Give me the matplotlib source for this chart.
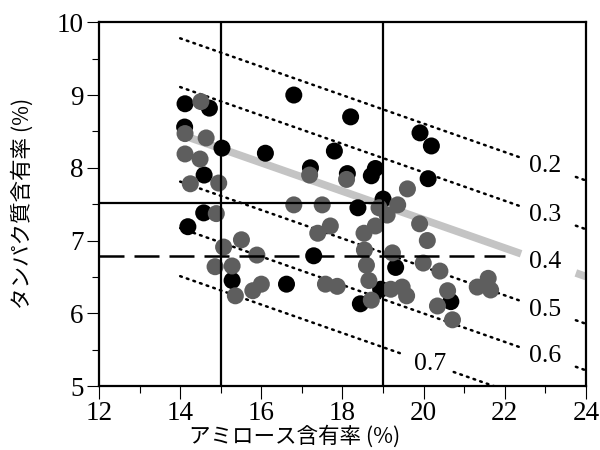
import matplotlib
matplotlib.use("Agg")
import matplotlib.pyplot as plt
import numpy as np

# ---- data ----
black_x = [14.12, 14.72, 14.11, 15.03, 16.10, 14.59, 14.58, 14.19, 15.28, 16.62,
           16.80, 18.20, 17.80, 17.21, 18.12, 18.81, 18.71, 18.38, 19.00, 17.29,
           19.31, 18.94, 18.44, 19.91, 20.19, 20.11, 20.67]
black_y = [8.88, 8.82, 8.56, 8.27, 8.20, 7.90, 7.38, 7.19, 6.45, 6.40,
           9.00, 8.70, 8.23, 8.00, 7.92, 7.99, 7.89, 7.45, 7.57, 6.79,
           6.63, 6.33, 6.13, 8.48, 8.30, 7.85, 6.16]

gray_x = [14.51, 14.12, 14.64, 14.12, 14.49, 14.25, 14.95, 14.89, 15.07, 15.51,
          15.89, 14.86, 15.28, 15.36, 16.00, 15.79, 17.19, 18.10, 16.80, 17.50,
          18.90, 19.10, 19.36, 17.70, 17.39, 18.81, 18.53, 18.54, 18.59, 19.23,
          17.58, 17.87, 18.65, 18.71, 19.19, 19.47, 19.58, 19.60, 19.90, 20.09,
          19.99, 20.40, 20.59, 20.34, 20.71, 21.32, 21.59, 21.65]
gray_y = [8.91, 8.47, 8.41, 8.19, 8.12, 7.78, 7.79, 7.37, 6.91, 7.01,
          6.80, 6.64, 6.65, 6.24, 6.40, 6.31, 7.90, 7.84, 7.49, 7.49,
          7.45, 7.35, 7.49, 7.20, 7.10, 7.20, 7.10, 6.87, 6.66, 6.83,
          6.40, 6.37, 6.45, 6.18, 6.33, 6.36, 6.24, 7.71, 7.23, 7.00,
          6.69, 6.58, 6.31, 6.10, 5.91, 6.36, 6.48, 6.32]

# iso-lines (value, y at x=14), common slope
iso_values = ["0.2", "0.3", "0.4", "0.5", "0.6", "0.7"]
iso_y14 = [9.78, 9.11, 8.46, 7.81, 7.17, 6.51]
iso_slope = -0.1955

x_threshold = [15, 19]
y_threshold_solid = 7.52
y_threshold_dashed = 6.79

xticks = [12, 14, 16, 18, 20, 22, 24]
yticks = [5, 6, 7, 8, 9, 10]

# ---- figure ----
fig = plt.figure(figsize=(6, 4.5), dpi=100)
ax = fig.add_axes([99 / 600, 1 - 386 / 450, 487 / 600, 363.7 / 450])
ax.set_xlim(12, 24)
ax.set_ylim(5, 10)

def iso_y(k, x):
    return iso_y14[k] + iso_slope * (np.asarray(x) - 14)

dot_style = dict(color="black", linewidth=1.8, linestyle=(0, (0.7, 2.1)),
                 dash_capstyle="round", zorder=2)
label_kw = dict(ha="center", va="center", fontsize=18.5,
                family="Liberation Serif", zorder=5)
for k, lab in enumerate(iso_values):
    if lab == "0.4":
        for a, b in [(14.25, 22.40), (23.75, 24.0)]:
            xs = np.array([a, b])
            ax.plot(xs, iso_y(k, xs), color="#c4c4c4", linewidth=5.5,
                    solid_capstyle="butt", zorder=1)
        ax.text(23.0, iso_y(k, 23.0), lab, **label_kw)
    elif lab == "0.7":
        for a, b in [(14.0, 19.43), (20.74, 22.0)]:
            xs = np.array([a, b])
            ax.plot(xs, iso_y(k, xs), **dot_style)
        ax.text(20.17, iso_y(k, 20.17), lab, **label_kw)
    else:
        for a, b in [(14.0, 22.40), (23.75, 24.0)]:
            xs = np.array([a, b])
            ax.plot(xs, iso_y(k, xs), **dot_style)
        ax.text(23.0, iso_y(k, 23.0), lab, **label_kw)

ax.scatter(black_x, black_y, s=150, color="black", edgecolors="none", zorder=3)
ax.scatter(gray_x, gray_y, s=150, color="#5e5e5e", edgecolors="none", zorder=4)

for xv in x_threshold:
    ax.axvline(xv, color="black", linewidth=1.6, zorder=6)
ax.plot([12, 19], [y_threshold_solid, y_threshold_solid], color="black",
        linewidth=1.6, zorder=6)
ax.plot([12, 22.0], [y_threshold_dashed, y_threshold_dashed], color="black",
        linewidth=1.8, linestyle=(0, (10, 4)), zorder=6)

for s in ax.spines.values():
    s.set_linewidth(1.6)

ax.set_xticks(xticks)
ax.set_xticks(np.arange(13, 24, 2), minor=True)
ax.set_yticks(yticks)
ax.set_yticks(np.arange(5.5, 10, 1), minor=True)
ax.tick_params(which="major", direction="out", length=9, width=0.8, pad=2)
ax.tick_params(which="minor", direction="out", length=5, width=0.8)
for t in ax.get_xticklabels() + ax.get_yticklabels():
    t.set_family("Liberation Serif")
    t.set_fontsize(19.5)

fig.text(295 / 600, 1 - 437 / 450, "アミロース含有率 (%)", ha="center", va="center",
         fontsize=15.5, family=["Noto Sans CJK JP", "DejaVu Sans"])
fig.text(23 / 600, 1 - 203 / 450, "タンパク質含有率 (%)", ha="center", va="center",
         rotation=90, fontsize=15.5, family=["Noto Sans CJK JP", "DejaVu Sans"])

fig.savefig("out.png", dpi=100)
